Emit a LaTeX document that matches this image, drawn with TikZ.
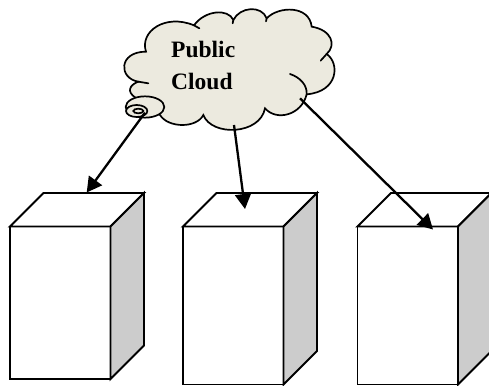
\documentclass[tikz,border=0pt]{standalone}
\usepackage{fontspec}
\setmainfont{Liberation Serif}
\usetikzlibrary{arrows.meta}
\definecolor{cloudfill}{HTML}{ECEADF}
\definecolor{sidefill}{HTML}{CCCCCC}
\tikzset{
  frontface/.style={draw=black,fill=white,line width=1.9pt,minimum width=100.5pt,inner sep=0pt,outer sep=0pt,anchor=north west},
  topface/.style={draw=black,fill=white,line width=1.9pt,line join=miter},
  sideface/.style={draw=black,fill=sidefill,line width=1.9pt,line join=miter},
  cloudline/.style={draw=black,line width=1.7pt,line cap=round},
  link/.style={draw=black,line width=2.3pt,-{Triangle[length=15pt,width=16pt]}},
  cloudtext/.style={font=\bfseries\fontsize{23.5}{23.5}\selectfont,anchor=base west,inner sep=0pt}
}
\newcommand{\serverbox}[4]{%
  \node[frontface,minimum height=#4pt] (#1) at (#2,#3) {};
  \draw[topface] (#1.north west) -- ++(33.5,-33.5) -- ++(100.5,0) -- (#1.north east) -- cycle;
  \draw[sideface] (#1.north east) -- ++(33.5,-33.5) -- ++(0,#4) -- (#1.south east) -- cycle;
}
\begin{document}
\begin{tikzpicture}[x=1pt,y=-1pt]
\useasboundingbox (0,0) rectangle (489,385);
\serverbox{boxa}{10}{226.5}{152.5}
\serverbox{boxb}{183}{226.5}{158}
\serverbox{boxc}{357.5}{226.5}{158}
\begin{scope}[shift={(110pt,0pt)},x=0.33333pt,y=-0.33333pt]
  \path[cloudline,fill=cloudfill] (108,155)
    .. controls (88,95) and (165,40) .. (252,76)
    .. controls (285,30) and (355,25) .. (370,60)
    .. controls (390,20) and (455,15) .. (470,55)
    .. controls (505,18) and (598,15) .. (605,80)
    .. controls (665,90) and (680,135) .. (650,162)
    .. controls (690,190) and (685,275) .. (590,283)
    .. controls (575,345) and (500,365) .. (465,325)
    .. controls (450,405) and (305,410) .. (280,345)
    .. controls (260,385) and (175,385) .. (150,345)
    -- (75,292)
    .. controls (50,275) and (58,255) .. (85,245)
    .. controls (25,235) and (25,155) .. (108,155) -- cycle;
  \draw[cloudline] (252,76) -- (268,85);
  \draw[cloudline] (650,162) -- (632,182);
  \draw[cloudline] (590,283) .. controls (592,255) and (570,232) .. (540,222);
  \draw[cloudline] (85,245) -- (115,250);
  \draw[cloudline] (370,60) -- (368,70);
  \draw[cloudline] (470,55) -- (468,64);
  \draw[cloudline,fill=cloudfill] (105,321) ellipse [x radius=58,y radius=32];
  \draw[cloudline,fill=cloudfill] (80,333) ellipse [x radius=32,y radius=18];
  \draw[cloudline,fill=cloudfill] (85,333) ellipse [x radius=15,y radius=7];
  \coordinate (srca) at (105,338);
  \coordinate (srcb) at (372,375);
  \coordinate (srcc) at (570,295);
\end{scope}
\node[cloudtext] (publiclabel) at (171,58) {Public};
\node[cloudtext] (cloudlabel) at (171,90) {Cloud};
\coordinate (tipa) at (86.7,192.5);
\coordinate (tipb) at (245,209);
\coordinate (tipc) at (433,229.5);
\draw[link] (srca) -- (tipa);
\draw[link] (srcb) -- (tipb);
\draw[link] (srcc) -- (tipc);
\end{tikzpicture}
\end{document}
